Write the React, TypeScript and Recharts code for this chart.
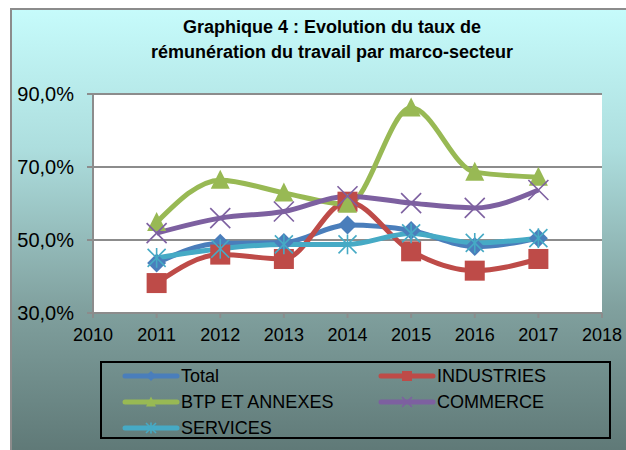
import React from "react";
import { LineChart, Line, XAxis, YAxis, CartesianGrid } from "recharts";

const years = [2011, 2012, 2013, 2014, 2015, 2016, 2017];
const total = [43.7, 49.1, 49.3, 54.1, 52.6, 48.2, 50.5];
const industries = [38.2, 46.0, 44.8, 60.5, 46.9, 41.6, 44.8];
const btp = [54.8, 66.4, 62.9, 59.8, 86.2, 68.6, 67.2];
const commerce = [51.9, 56.0, 57.8, 62.0, 60.1, 58.8, 63.7];
const services = [45.1, 47.6, 48.8, 48.8, 51.8, 49.2, 50.5];
const xTicks = [2010, 2011, 2012, 2013, 2014, 2015, 2016, 2017, 2018];
const yTicks = [30, 50, 70, 90];

const series = [
  { key: "total", name: "Total", color: "#4A7EBB", shape: "diamond", values: total },
  { key: "industries", name: "INDUSTRIES", color: "#BE4B48", shape: "square", values: industries },
  { key: "btp", name: "BTP ET ANNEXES", color: "#98B954", shape: "triangle", values: btp },
  { key: "commerce", name: "COMMERCE", color: "#7D60A0", shape: "cross", values: commerce },
  { key: "services", name: "SERVICES", color: "#46AAC5", shape: "star", values: services },
];

const data = years.map((year, i) => {
  const row: Record<string, number> = { year };
  series.forEach((s) => (row[s.key] = s.values[i]));
  return row;
});

const FONT = "Arial, 'Liberation Sans', sans-serif";

function Marker({ shape, color, x, y, r }: { shape: string; color: string; x: number; y: number; r: number }) {
  if (shape === "diamond")
    return <polygon points={`${x},${y - r} ${x + r},${y} ${x},${y + r} ${x - r},${y}`} fill={color} />;
  if (shape === "square") return <rect x={x - r} y={y - r} width={r * 2} height={r * 2} fill={color} />;
  if (shape === "triangle")
    return <polygon points={`${x},${y - r * 1.1} ${x + r},${y + r * 0.9} ${x - r},${y + r * 0.9}`} fill={color} />;
  const d = r;
  const lines = [
    <line key="a" x1={x - d} y1={y - d} x2={x + d} y2={y + d} />,
    <line key="b" x1={x - d} y1={y + d} x2={x + d} y2={y - d} />,
  ];
  if (shape === "star") lines.push(<line key="c" x1={x} y1={y - r * 1.1} x2={x} y2={y + r * 1.1} />);
  return (
    <g stroke={color} strokeWidth={1.6}>
      {lines}
    </g>
  );
}

const sizes: Record<string, number> = { diamond: 9.5, square: 10, triangle: 9.5, cross: 10, star: 9 };

const dotFor = (shape: string, color: string) => (props: any) =>
  (
    <g key={`${shape}-${props.index}`}>
      <Marker shape={shape} color={color} x={props.cx} y={props.cy} r={sizes[shape]} />
    </g>
  );

const fmt = (v: number) => v.toFixed(1).replace(".", ",") + "%";

function LegendItem({ s }: { s: (typeof series)[number] }) {
  return (
    <div style={{ display: "flex", alignItems: "center", height: 26 }}>
      <svg width={58} height={14} style={{ marginRight: 1 }}>
        <line x1={3} y1={7} x2={55} y2={7} stroke={s.color} strokeWidth={5} strokeLinecap="round" />
        <Marker shape={s.shape} color={s.color} x={29} y={7} r={5} />
      </svg>
      <span>{s.name}</span>
    </div>
  );
}

export default function App() {
  return (
    <div
      style={{
        position: "absolute",
        left: 0,
        top: 0,
        width: 626,
        height: 450,
        overflow: "hidden",
        background: "#fff",
        fontFamily: FONT,
      }}
    >
      <div
        style={{
          position: "absolute",
          left: 10,
          top: 8,
          width: 640,
          height: 460,
          borderLeft: "2px solid #8c8c8c",
          borderTop: "2px solid #8c8c8c",
          background: "linear-gradient(to bottom, #c6fbfb 0%, #addede 30%, #80a09e 65%, #5b7472 100%)",
        }}
      />
      <div
        style={{
          position: "absolute",
          left: 0,
          width: 664,
          top: 15,
          textAlign: "center",
          fontWeight: "bold",
          fontSize: 18,
          lineHeight: "25px",
          color: "#000",
        }}
      >
        Graphique 4 : Evolution du taux de
        <br />
        rémunération du travail par marco-secteur
      </div>
      <div style={{ position: "absolute", left: 0, top: 0 }}>
        <LineChart width={626} height={450} data={data} margin={{ top: 94, right: 24, left: 0, bottom: 107 }}>
          <CartesianGrid vertical={false} stroke="#8c8c8c" strokeWidth={2} fill="#ffffff" horizontalValues={yTicks} />
          <XAxis
            dataKey="year"
            type="number"
            domain={[2010, 2018]}
            ticks={xTicks}
            height={30}
            stroke="#8c8c8c"
            strokeWidth={2}
            tickSize={5}
            tickMargin={10}
            tick={{ fill: "#000", fontSize: 18, fontFamily: FONT }}
          />
          <YAxis
            type="number"
            domain={[30, 90]}
            ticks={yTicks}
            width={93}
            stroke="#8c8c8c"
            strokeWidth={2}
            tickSize={6}
            tickMargin={13}
            tickFormatter={fmt}
            tick={{ fill: "#000", fontSize: 20, fontFamily: FONT }}
          />
          {series.map((s) => (
            <Line
              key={s.key}
              dataKey={s.key}
              name={s.name}
              type="monotone"
              stroke={s.color}
              strokeWidth={5}
              dot={dotFor(s.shape, s.color)}
              activeDot={false}
              isAnimationActive={false}
            />
          ))}
        </LineChart>
      </div>
      <div
        style={{
          position: "absolute",
          left: 100,
          top: 361,
          width: 507,
          height: 74,
          border: "2px solid #000",
          fontSize: 18,
          color: "#000",
          display: "grid",
          gridTemplateColumns: "256px 250px",
          alignContent: "start",
        }}
      >
        {series.map((s) => (
          <div key={s.key} style={{ paddingLeft: 20 }}>
            <LegendItem s={s} />
          </div>
        ))}
      </div>
    </div>
  );
}
